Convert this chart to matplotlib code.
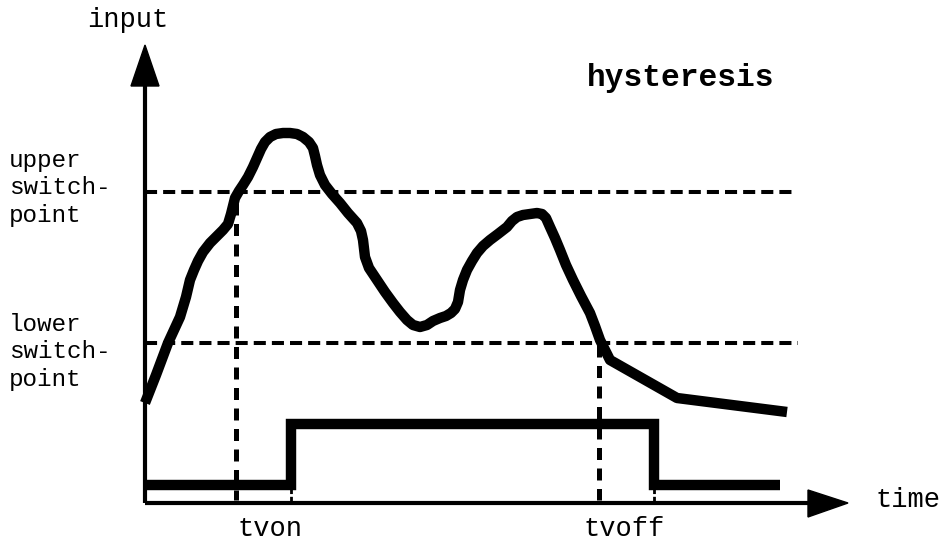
import matplotlib as mpl
from matplotlib import pyplot as plt

mpl.rcParams['font.family'] = ['Liberation Mono', 'DejaVu Sans Mono']

# input signal (pixel units, y grows downwards)
curve_x = [145, 156, 168, 180, 186, 190, 194, 198, 203, 210, 217, 223, 228,
           231, 235, 239, 243, 248, 253, 257, 261, 265, 270, 276, 283, 290,
           297, 303, 309, 313, 315, 317, 320, 325, 332, 340, 348, 357, 361,
           363, 365, 369, 377, 385, 393, 400, 407, 413, 420, 427, 433, 440,
           446, 451, 455, 458, 460, 463, 467, 472, 477, 483, 490, 498, 507,
           512, 517, 523, 530, 537, 542, 546, 550, 555, 560, 566, 573, 581,
           590, 595, 600, 605, 610, 677, 787]
curve_y = [403, 375, 343, 317, 297, 280, 270, 261, 252, 243, 236, 230, 224,
           214, 198, 191, 185, 177, 167, 158, 149, 142, 137, 134, 133, 133,
           134, 137, 142, 148, 156, 165, 175, 185, 194, 203, 213, 223, 231,
           240, 257, 268, 280, 292, 303, 312, 320, 325, 327, 325, 321, 318,
           316, 313, 309, 302, 290, 280, 270, 261, 253, 246, 240, 234, 227,
           221, 217, 215, 214, 213, 214, 218, 227, 238, 250, 265, 280, 296,
           313, 326, 340, 350, 360, 398, 412]

# switch output
switch_x = [145, 291, 291, 654, 654, 780]
switch_y = [485, 485, 424, 424, 485, 485]

upper_level = 192
lower_level = 343
t_on = 236
t_off = 599
origin = (145, 503)

fig = plt.figure(figsize=(9.43, 5.43), dpi=100)
ax = fig.add_axes([0, 0, 1, 1])
ax.set_xlim(0, 943)
ax.set_ylim(543, 0)
ax.axis('off')

# axes with arrows
ax.plot([origin[0], origin[0]], [origin[1], 84], color='black', lw=3,
        solid_capstyle='butt')
ax.plot([origin[0], 809], [origin[1], origin[1]], color='black', lw=3,
        solid_capstyle='butt')
ax.fill([131, 159, 145], [86, 86, 45], color='black')
ax.fill([808, 808, 848], [490, 517, 503], color='black')

# switch points
ax.plot([origin[0], 796], [upper_level, upper_level], color='black', lw=2.9,
        dashes=(3, 1.5))
ax.plot([origin[0], 798], [lower_level, lower_level], color='black', lw=2.9,
        dashes=(3, 1.5))
ax.plot([t_on, t_on], [203, 500], color='black', lw=3.6, dashes=(2.4, 1.7))
ax.plot([t_off, t_off], [345, 500], color='black', lw=3.6, dashes=(2.4, 1.7))
ax.plot([291, 291], [488, 501], color='black', lw=2, dashes=(2, 1))
ax.plot([654, 654], [488, 501], color='black', lw=2, dashes=(2, 1))

ax.plot(curve_x, curve_y, color='black', lw=7.5, solid_joinstyle='round',
        solid_capstyle='butt')
ax.plot(switch_x, switch_y, color='black', lw=7.5, solid_joinstyle='miter',
        solid_capstyle='butt')

# labels
ax.text(128, 20, 'input', fontsize=19.5, ha='center', va='center')
ax.text(875, 500, 'time', fontsize=19.5, ha='left', va='center')
ax.text(270, 529, 'tvon', fontsize=19.5, ha='center', va='center')
ax.text(624, 529, 'tvoff', fontsize=19.5, ha='center', va='center')
ax.text(9, 188, 'upper\nswitch-\npoint', fontsize=17.5, ha='left',
        va='center', linespacing=1.27)
ax.text(9, 352, 'lower\nswitch-\npoint', fontsize=17.5, ha='left',
        va='center', linespacing=1.27)
ax.text(681, 78, 'hysteresis', fontsize=22.5, fontweight='bold',
        ha='center', va='center')

plt.savefig('out.png', dpi=100)
